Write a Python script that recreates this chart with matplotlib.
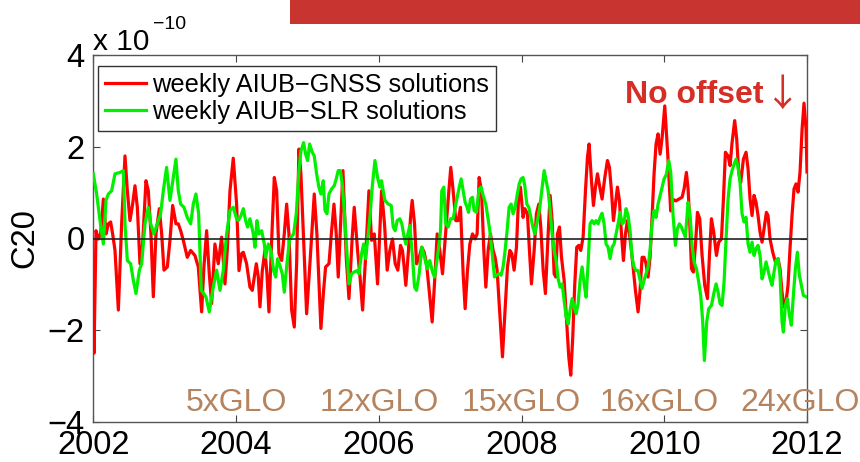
import matplotlib
matplotlib.use("Agg")
import matplotlib.pyplot as plt
from matplotlib.patches import Rectangle

plt.rcParams['font.family'] = ['Liberation Sans', 'DejaVu Sans']

# Weekly C20 estimates (units of 1e-10)
gnss_year = [
    2002.000, 2002.010, 2002.038, 2002.071, 2002.103, 2002.141, 2002.178, 2002.211, 2002.243, 2002.271,
    2002.304, 2002.351, 2002.397, 2002.444, 2002.477, 2002.514, 2002.551, 2002.584, 2002.617, 2002.654,
    2002.691, 2002.738, 2002.771, 2002.808, 2002.841, 2002.878, 2002.925, 2002.958, 2002.990, 2003.037,
    2003.074, 2003.112, 2003.158, 2003.191, 2003.224, 2003.261, 2003.317, 2003.364, 2003.424, 2003.471,
    2003.518, 2003.550, 2003.588, 2003.625, 2003.658, 2003.704, 2003.751, 2003.798, 2003.845, 2003.877,
    2003.915, 2003.961, 2004.008, 2004.041, 2004.078, 2004.102, 2004.148, 2004.195, 2004.228, 2004.256,
    2004.284, 2004.312, 2004.335, 2004.368, 2004.405, 2004.433, 2004.461, 2004.499, 2004.536, 2004.569,
    2004.601, 2004.639, 2004.676, 2004.709, 2004.741, 2004.779, 2004.816, 2004.849, 2004.881, 2004.909,
    2004.947, 2004.989, 2005.035, 2005.096, 2005.133, 2005.189, 2005.227, 2005.255, 2005.302, 2005.339,
    2005.372, 2005.404, 2005.432, 2005.465, 2005.498, 2005.544, 2005.582, 2005.628, 2005.656, 2005.703,
    2005.741, 2005.773, 2005.815, 2005.862, 2005.899, 2005.937, 2005.983, 2006.039, 2006.080, 2006.118,
    2006.155, 2006.192, 2006.230, 2006.267, 2006.304, 2006.332, 2006.351, 2006.379, 2006.416, 2006.445,
    2006.468, 2006.501, 2006.529, 2006.566, 2006.603, 2006.636, 2006.669, 2006.706, 2006.748, 2006.786,
    2006.818, 2006.855, 2006.893, 2006.925, 2006.958, 2006.986, 2007.009, 2007.042, 2007.079, 2007.112,
    2007.145, 2007.182, 2007.210, 2007.243, 2007.276, 2007.313, 2007.350, 2007.378, 2007.406, 2007.439,
    2007.472, 2007.500, 2007.532, 2007.565, 2007.602, 2007.630, 2007.658, 2007.696, 2007.733, 2007.770,
    2007.803, 2007.836, 2007.864, 2007.896, 2007.929, 2007.957, 2007.985, 2008.022, 2008.046, 2008.083,
    2008.111, 2008.139, 2008.177, 2008.209, 2008.242, 2008.270, 2008.303, 2008.335, 2008.373, 2008.401,
    2008.429, 2008.457, 2008.480, 2008.504, 2008.532, 2008.560, 2008.597, 2008.634, 2008.662, 2008.690,
    2008.718, 2008.746, 2008.774, 2008.802, 2008.830, 2008.863, 2008.896, 2008.924, 2008.947, 2008.980,
    2009.008, 2009.036, 2009.064, 2009.097, 2009.129, 2009.167, 2009.204, 2009.232, 2009.260, 2009.288,
    2009.316, 2009.344, 2009.372, 2009.400, 2009.428, 2009.456, 2009.484, 2009.512, 2009.540, 2009.568,
    2009.596, 2009.633, 2009.661, 2009.689, 2009.717, 2009.745, 2009.773, 2009.801, 2009.829, 2009.857,
    2009.885, 2009.913, 2009.942, 2009.970, 2010.007, 2010.050, 2010.090, 2010.125, 2010.165, 2010.205,
    2010.250, 2010.280, 2010.310, 2010.334, 2010.357, 2010.381, 2010.408, 2010.437, 2010.465, 2010.497,
    2010.530, 2010.567, 2010.605, 2010.633, 2010.661, 2010.693, 2010.731, 2010.763, 2010.801, 2010.829,
    2010.857, 2010.894, 2010.922, 2010.950, 2010.987, 2011.015, 2011.043, 2011.071, 2011.109, 2011.146,
    2011.174, 2011.202, 2011.230, 2011.258, 2011.286, 2011.314, 2011.342, 2011.370, 2011.398, 2011.431,
    2011.454, 2011.482, 2011.520, 2011.557, 2011.594, 2011.622, 2011.650, 2011.678, 2011.706, 2011.734,
    2011.762, 2011.790, 2011.818, 2011.846, 2011.874, 2011.902, 2011.931, 2011.958, 2011.986, 2012.000,
]
gnss_c20 = [
    -1.10, -2.50, 0.17, -0.01, 0.10, 0.86, 0.10, 0.32, 0.36, 0.10,
    -0.26, -1.56, 0.32, 1.80, 1.04, 0.39, 0.75, 1.15, 0.68, -0.55,
    -0.12, 1.26, 1.04, 0.10, -1.27, 0.10, 0.65, 0.10, -0.69, -0.62,
    -0.04, 0.72, 0.32, 0.32, 0.17, -0.04, -0.41, -0.26, -0.37, -0.62,
    -1.60, -0.62, 0.17, -0.77, -1.42, -0.12, -0.55, 0.03, -0.99, -0.26,
    1.04, 1.75, 0.75, -0.70, -0.33, -0.30, -0.55, -1.06, -1.13, -0.84,
    -0.55, -0.84, -1.49, -0.70, -0.26, -0.77, -1.60, -0.04, 1.33, 1.04,
    -0.33, -0.48, 0.10, 0.75, 0.10, -1.56, -1.93, -0.55, 1.95, 1.41,
    -0.04, -1.64, -0.55, 0.97, 0.10, -1.96, -1.13, -0.62, -0.55, 0.17,
    0.75, 0.10, -0.84, 0.32, 1.48, -0.41, -1.31, 0.03, 0.68, -0.26,
    -0.91, -1.56, -0.41, 1.04, -0.04, 0.10, -0.99, 1.04, 0.32, -0.69,
    -0.26, -0.01, -0.55, -0.69, -0.15, -0.26, -0.55, -1.02, -0.26, 0.46,
    0.83, 0.32, -0.55, -0.41, -0.19, -0.30, -0.55, -1.13, -1.82, -0.84,
    0.10, -0.26, -0.77, -0.12, 0.54, 1.12, 1.55, 1.04, 0.39, 0.39,
    0.68, -0.77, -1.53, -0.69, -0.12, 0.10, -0.01, 0.10, 1.33, 1.04,
    -0.26, -1.06, -0.26, 0.10, -0.26, -0.41, -0.69, -1.64, -2.58, -1.56,
    -0.62, -0.26, -0.33, -0.69, -0.19, 0.83, 1.12, 0.46, 0.65, 0.54,
    -0.26, -0.99, -0.26, 0.54, 0.75, 0.25, -0.69, -1.20, 0.10, 0.94,
    0.39, -0.77, -0.84, 0.10, 0.25, -0.41, -0.91, -1.85, -2.58, -2.98,
    -2.14, -0.99, -0.19, -0.15, -0.26, 0.03, 1.04, 1.77, 2.06, 1.26,
    0.72, 1.12, 1.41, 1.12, 0.86, 1.33, 1.70, 1.55, 1.04, 0.39,
    0.75, 1.12, 0.83, 0.10, -0.48, 0.10, 0.39, 0.10, -0.26, -0.69,
    -1.13, -1.60, -1.13, -0.41, -0.41, -0.55, -0.84, -0.41, 0.46, 1.41,
    2.06, 2.28, 1.84, 2.20, 2.89, 1.80, 0.60, 0.85, 0.82, 0.86,
    0.90, 1.10, 1.44, 1.08, 0.35, -0.66, -0.73, -0.15, 0.57, 0.43,
    -0.37, -1.02, -1.31, -0.37, 0.43, 0.14, -0.37, -0.08, -0.01, 0.86,
    1.88, 1.80, 1.59, 2.09, 2.57, 2.17, 1.44, 1.22, 1.73, 1.88,
    1.52, 0.86, 0.50, 0.94, 0.79, 0.50, 0.14, -0.08, 0.21, 0.57,
    0.50, -0.01, -0.30, -0.51, -0.44, -0.66, -1.17, -1.49, -1.38, -1.02,
    -0.22, 0.50, 1.08, 1.19, 1.01, 1.44, 2.38, 2.95, 2.40, 1.45,
]

slr_year = [
    2002.000, 2002.047, 2002.094, 2002.141, 2002.178, 2002.211, 2002.257, 2002.304, 2002.374, 2002.421,
    2002.444, 2002.477, 2002.523, 2002.561, 2002.598, 2002.645, 2002.678, 2002.724, 2002.771, 2002.804,
    2002.850, 2002.897, 2002.943, 2002.981, 2003.027, 2003.074, 2003.121, 2003.158, 2003.191, 2003.224,
    2003.270, 2003.317, 2003.364, 2003.401, 2003.438, 2003.476, 2003.513, 2003.578, 2003.625, 2003.681,
    2003.728, 2003.775, 2003.821, 2003.868, 2003.915, 2003.961, 2004.008, 2004.032, 2004.069, 2004.102,
    2004.134, 2004.162, 2004.195, 2004.242, 2004.265, 2004.293, 2004.321, 2004.359, 2004.396, 2004.415,
    2004.452, 2004.489, 2004.527, 2004.555, 2004.583, 2004.620, 2004.648, 2004.676, 2004.713, 2004.751,
    2004.807, 2004.844, 2004.881, 2004.909, 2004.947, 2004.975, 2005.003, 2005.031, 2005.068, 2005.096,
    2005.129, 2005.161, 2005.189, 2005.222, 2005.246, 2005.274, 2005.302, 2005.339, 2005.376, 2005.404,
    2005.432, 2005.461, 2005.488, 2005.516, 2005.549, 2005.582, 2005.619, 2005.656, 2005.694, 2005.722,
    2005.759, 2005.787, 2005.815, 2005.843, 2005.876, 2005.908, 2005.946, 2005.983, 2006.016, 2006.038,
    2006.085, 2006.132, 2006.174, 2006.202, 2006.230, 2006.258, 2006.295, 2006.323, 2006.351, 2006.379,
    2006.407, 2006.435, 2006.473, 2006.501, 2006.529, 2006.566, 2006.603, 2006.641, 2006.678, 2006.715,
    2006.753, 2006.781, 2006.809, 2006.837, 2006.865, 2006.883, 2006.911, 2006.939, 2006.972, 2007.005,
    2007.042, 2007.079, 2007.117, 2007.154, 2007.182, 2007.210, 2007.238, 2007.257, 2007.285, 2007.313,
    2007.336, 2007.369, 2007.406, 2007.434, 2007.462, 2007.500, 2007.528, 2007.556, 2007.588, 2007.621,
    2007.649, 2007.686, 2007.714, 2007.742, 2007.770, 2007.798, 2007.826, 2007.854, 2007.882, 2007.910,
    2007.938, 2007.967, 2007.994, 2008.022, 2008.046, 2008.074, 2008.102, 2008.130, 2008.158, 2008.186,
    2008.223, 2008.256, 2008.289, 2008.317, 2008.345, 2008.373, 2008.401, 2008.429, 2008.457, 2008.485,
    2008.513, 2008.541, 2008.569, 2008.597, 2008.625, 2008.653, 2008.681, 2008.709, 2008.737, 2008.765,
    2008.793, 2008.821, 2008.849, 2008.877, 2008.905, 2008.933, 2008.961, 2008.989, 2009.017, 2009.045,
    2009.073, 2009.101, 2009.129, 2009.157, 2009.185, 2009.213, 2009.241, 2009.269, 2009.297, 2009.325,
    2009.353, 2009.381, 2009.409, 2009.437, 2009.465, 2009.493, 2009.521, 2009.549, 2009.577, 2009.605,
    2009.633, 2009.661, 2009.689, 2009.717, 2009.745, 2009.773, 2009.801, 2009.829, 2009.857, 2009.885,
    2009.913, 2009.942, 2009.970, 2009.998, 2010.030, 2010.063, 2010.091, 2010.124, 2010.156, 2010.184,
    2010.212, 2010.240, 2010.268, 2010.296, 2010.334, 2010.362, 2010.390, 2010.418, 2010.451, 2010.483,
    2010.511, 2010.539, 2010.562, 2010.595, 2010.623, 2010.661, 2010.698, 2010.726, 2010.754, 2010.782,
    2010.810, 2010.838, 2010.866, 2010.894, 2010.922, 2010.950, 2010.978, 2011.006, 2011.034, 2011.062,
    2011.090, 2011.118, 2011.146, 2011.174, 2011.202, 2011.230, 2011.258, 2011.286, 2011.314, 2011.342,
    2011.370, 2011.398, 2011.426, 2011.454, 2011.482, 2011.510, 2011.538, 2011.566, 2011.594, 2011.622,
    2011.650, 2011.669, 2011.697, 2011.725, 2011.753, 2011.781, 2011.809, 2011.837, 2011.865, 2011.893,
    2011.921, 2011.949, 2011.986,
]
slr_c20 = [
    1.41, 0.97, 0.39, -0.12, 0.83, 0.97, 1.04, 1.41, 1.44, 1.48,
    0.32, -0.48, -0.55, -0.91, -1.20, -0.69, -0.55, 0.32, 0.68, 0.32,
    0.10, 0.32, 0.54, 1.04, 1.55, 0.83, 1.33, 1.73, 1.04, 0.75,
    0.68, 0.46, 0.32, 0.75, 0.97, 0.54, -1.13, -1.27, -1.60, -1.06,
    -0.69, -1.13, -0.69, 0.10, 0.61, 0.68, 0.43, 0.39, 0.50, 0.65,
    0.39, 0.25, 0.43, 0.10, -0.19, 0.39, 0.10, 0.17, -0.12, -0.41,
    -0.12, -0.26, -0.70, -0.84, -0.44, -0.62, -0.77, -1.17, -0.55, -0.01,
    0.10, 0.54, 1.48, 1.91, 2.09, 1.84, 1.70, 2.06, 1.88, 1.80,
    1.41, 1.12, 0.97, 1.26, 0.61, 0.54, 0.97, 1.08, 1.15, 1.30,
    1.48, 1.48, 1.19, 0.61, -0.19, -0.99, -0.77, -0.73, -0.70, -0.77,
    -0.33, -0.12, -0.44, -0.04, 0.46, 1.12, 1.70, 1.33, 1.12, 1.26,
    0.83, 0.75, 0.72, 0.25, 0.17, 0.39, 0.43, 0.32, 0.07, -0.12,
    0.10, 0.28, -0.41, -1.06, -1.13, -0.77, -0.19, -0.41, -0.66, -0.48,
    -0.73, -0.84, -0.55, -0.22, 0.17, 1.04, 1.12, 0.32, 0.25, 0.43,
    0.43, 0.75, 1.04, 1.30, 1.04, 0.79, 0.68, 0.57, 0.86, 0.90,
    0.61, 0.57, 1.08, 1.12, 0.94, 0.75, 0.46, 0.17, -0.33, -0.84,
    -0.80, -0.77, -0.80, -0.62, -0.26, 0.17, 0.68, 0.75, 0.54, 0.68,
    0.94, 1.19, 1.30, 1.33, 1.15, 0.75, 0.68, 0.46, 0.25, 0.10,
    0.39, 0.68, 1.12, 1.48, 1.26, 1.04, 0.61, 0.10, -0.26, -0.48,
    -0.88, -1.06, -0.99, -1.35, -1.71, -1.86, -1.56, -1.31, -1.49, -1.64,
    -1.42, -0.91, -0.62, -0.99, -1.28, -0.55, 0.32, 0.39, 0.32, 0.39,
    0.32, 0.46, 0.55, 0.32, -0.12, -0.19, -0.44, -0.19, -0.12, 0.10,
    0.32, 0.57, 0.32, 0.36, 0.65, 0.50, 0.17, -0.41, -0.62, -0.70,
    -0.70, -0.91, -1.09, -0.91, -0.77, -0.62, -0.26, 0.32, 0.61, 0.46,
    0.75, 0.94, 1.12, 1.30, 1.40, 1.70, 1.44, 0.50, -0.15, 0.21,
    0.32, 0.25, 0.14, 0.03, 0.79, 0.50, -0.15, -0.51, -0.66, -0.95,
    -1.24, -1.82, -2.66, -1.82, -1.53, -1.46, -1.17, -0.99, -1.17, -1.42,
    -1.46, -0.95, -0.01, 0.86, 1.30, 1.48, 1.62, 1.73, 1.55, 1.22,
    0.54, 0.36, 0.46, -0.12, -0.30, -0.08, -0.37, -0.22, -0.15, -0.37,
    -0.88, -0.73, -0.51, -0.70, -0.88, -1.02, -0.73, -0.48, -0.44, -0.80,
    -1.82, -2.04, -1.46, -1.31, -1.67, -1.89, -1.24, -0.66, -0.30, -0.80,
    -1.02, -1.24, -1.27,
]

year_ticks = [2002, 2004, 2006, 2008, 2010, 2012]
c20_ticks = [-4, -2, 0, 2, 4]
glo_years = [2004, 2006, 2008, 2009.93, 2011.9]
glo_labels = ['5xGLO', '12xGLO', '15xGLO', '16xGLO', '24xGLO']

W, H = 860, 462
fig = plt.figure(figsize=(W / 100, H / 100), dpi=100)

# header banner
fig.patches.append(Rectangle((290 / W, 1 - 24 / H), (W - 290) / W, 24 / H,
                             transform=fig.transFigure, facecolor='#C8342F',
                             edgecolor='none'))

ax = fig.add_axes([93.3 / W, (H - 422) / H, (807 - 93.3) / W, (422 - 55) / H])

ax.plot(gnss_year, gnss_c20, color='#FF0000', lw=2.3, label='weekly AIUB\u2212GNSS solutions', zorder=3)
ax.plot(slr_year, slr_c20, color='#00F000', lw=2.3, label='weekly AIUB\u2212SLR solutions', zorder=4)
ax.axhline(0, color='#222222', lw=1.2, zorder=5)

ax.set_xlim(2002, 2012)
ax.set_ylim(-4, 4)
ax.set_xticks(year_ticks)
ax.set_xticklabels([str(y) for y in year_ticks])
ax.set_yticks(c20_ticks)
ax.set_yticklabels([('\u2212' + str(-v)) if v < 0 else str(v) for v in c20_ticks])
ax.tick_params(direction='in', length=5, width=0.8, top=True, right=True,
               labelsize=23.5, color='#444444', pad=6)
for s in ax.spines.values():
    s.set_color('#555555')
    s.set_linewidth(1.0)
ax.set_ylabel('C20', fontsize=23.5, labelpad=5)

leg = ax.legend(loc='upper left', bbox_to_anchor=(0.0066, 0.970), fontsize=18.3,
                frameon=True, fancybox=False, edgecolor='#333333', framealpha=1,
                handlelength=1.6, handletextpad=0.25, borderpad=0.28,
                labelspacing=0.12, borderaxespad=0)
leg.get_frame().set_linewidth(1.0)

# satellite-count labels along the bottom
for yr, lab in zip(glo_years, glo_labels):
    ax.text(yr, -3.75, lab, ha='center', va='baseline', fontsize=23,
            color='#B5835E', clip_on=False, zorder=6)

# scale factor of the C20 axis
fig.text(93 / W, 1 - 50 / H, 'x 10', fontsize=21.5, ha='left', va='baseline')
fig.text(153 / W, 1 - 29 / H, '\u221210', fontsize=14, ha='left', va='baseline')

fig.text(625 / W, 1 - 103 / H, 'No offset', fontsize=23, fontweight='bold',
         color='#D42E26', ha='left', va='baseline')
fig.text(783 / W, 1 - 95 / H, '\u2193', fontsize=27, color='#D42E26',
         family=['Noto Sans CJK JP', 'DejaVu Sans'], ha='center', va='center')

fig.savefig('out.png', dpi=100)
